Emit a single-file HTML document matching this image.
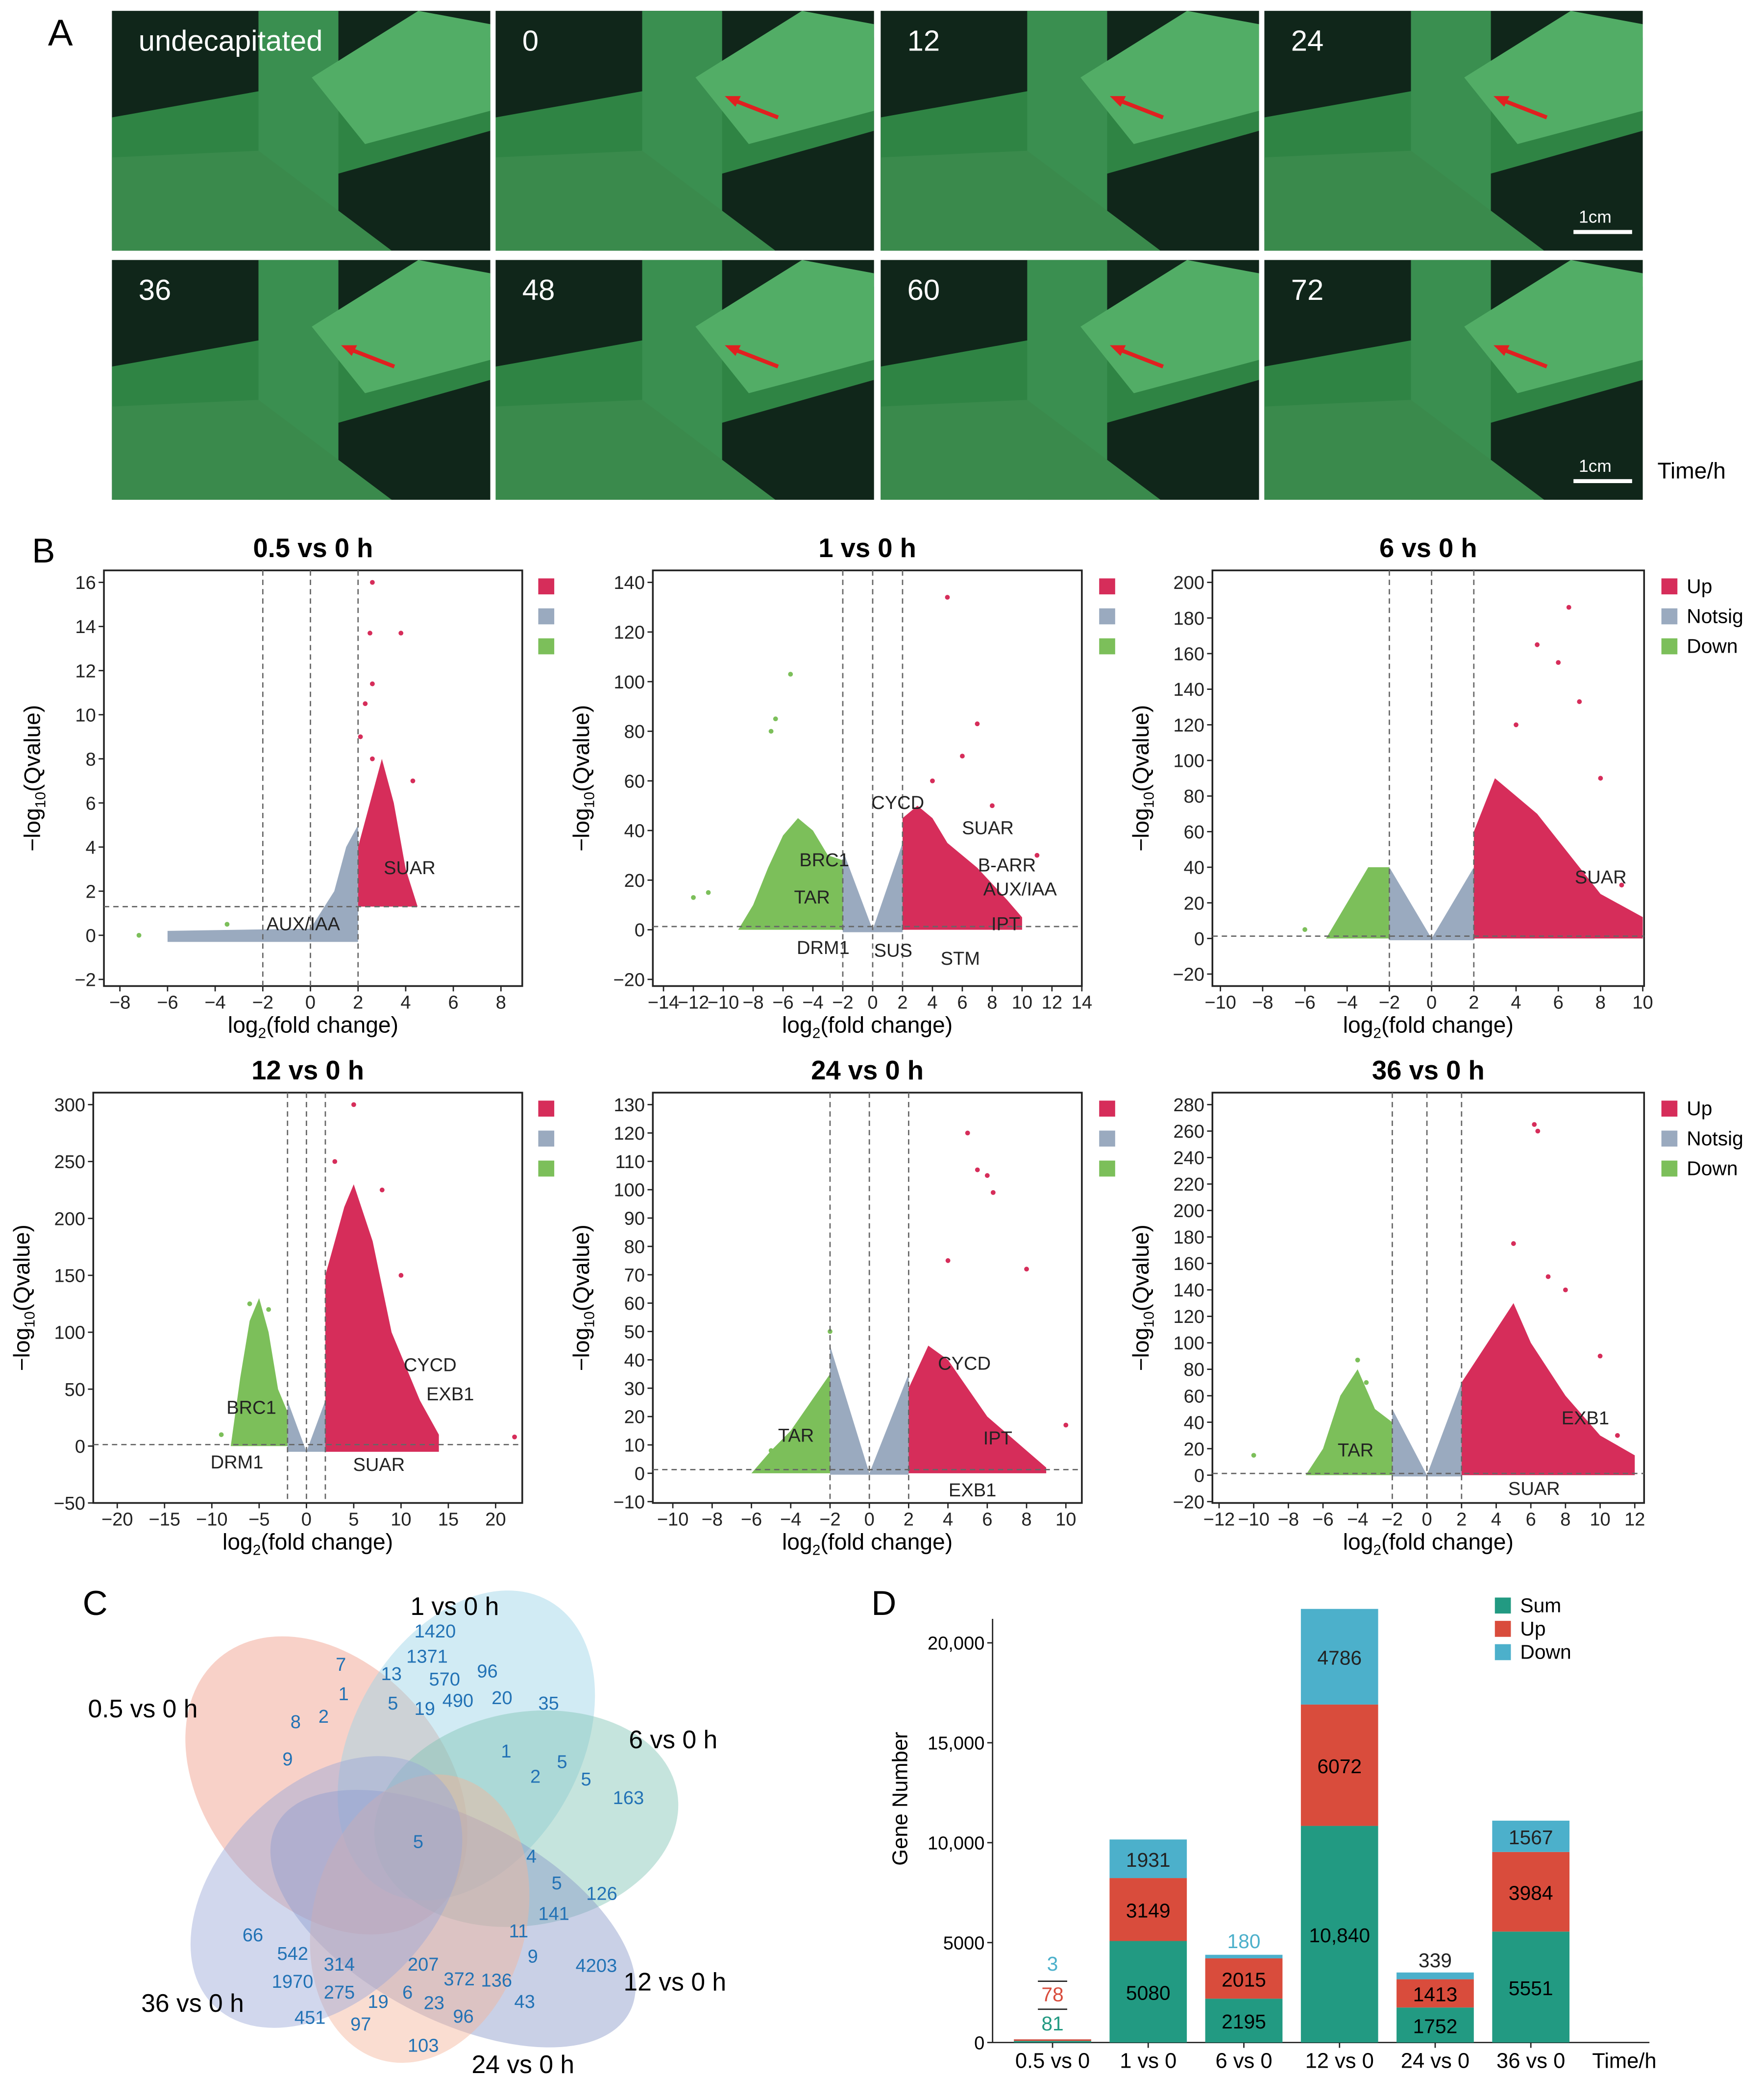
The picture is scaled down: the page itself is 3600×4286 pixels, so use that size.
<!DOCTYPE html>
<html><head><meta charset="utf-8"><style>
html,body{margin:0;padding:0;background:#fff}
svg{display:block;font-family:"Liberation Sans",Arial,sans-serif}
</style></head><body>
<svg id="fig" width="3600" height="4286" viewBox="0 0 1324 1576" xmlns="http://www.w3.org/2000/svg">
<g id="panelA"></g>
<g id="panelB"></g>
<g id="panelC"></g>
<g id="panelD"></g>
</svg>
<script>
// ---- Panel D data ----
const barCategories = ["0.5 vs 0","1 vs 0","6 vs 0","12 vs 0","24 vs 0","36 vs 0"];
const sumValues = [81,5080,2195,10840,1752,5551];
const upValues = [78,3149,2015,6072,1413,3984];
const downValues = [3,1931,180,4786,339,1567];
const yTicksD = [0,5000,10000,15000,20000];
const yTickLabelsD = ["0","5000","10,000","15,000","20,000"];

// ---- Panel B data (envelopes in data units [log2FC, -log10Q]) ----
const plotTitles = ["0.5 vs 0 h","1 vs 0 h","6 vs 0 h","12 vs 0 h","24 vs 0 h","36 vs 0 h"];
const xTicks = [[-8,-6,-4,-2,0,2,4,6,8],[-14,-12,-10,-8,-6,-4,-2,0,2,4,6,8,10,12,14],[-10,-8,-6,-4,-2,0,2,4,6,8,10],[-20,-15,-10,-5,0,5,10,15,20],[-10,-8,-6,-4,-2,0,2,4,6,8,10],[-12,-10,-8,-6,-4,-2,0,2,4,6,8,10,12]];
const yTicks = [[-2,0,2,4,6,8,10,12,14,16],[-20,0,20,40,60,80,100,120,140],[-20,0,20,40,60,80,100,120,140,160,180,200],[-50,0,50,100,150,200,250,300],[-10,0,10,20,30,40,50,60,70,80,90,100,110,120,130],[-20,0,20,40,60,80,100,120,140,160,180,200,220,240,260,280]];
const upShapes = [
 [[2,1.3],[2,4],[2.5,6],[3,8],[3.5,6],[4,3],[4.5,1.3]],
 [[2,0],[2,45],[3,50],[4,45],[5,35],[7,25],[9,12],[10,5],[10,0]],
 [[2,0],[2,60],[3,90],[4,80],[5,70],[6,55],[7,40],[8,25],[10,12],[10,0]],
 [[2,-5],[2,150],[4,210],[5,230],[7,180],[9,100],[12,40],[14,10],[14,-5]],
 [[2,0],[2,30],[3,45],[4,40],[5,30],[6,20],[8,8],[9,2],[9,0]],
 [[2,0],[2,70],[4,110],[5,130],[6,100],[8,60],[10,30],[12,15],[12,0]]];
const nsShapes = [
 [[-6,-0.3],[-6,0.2],[0,0.3],[1,2],[1.5,4],[2,5],[2,-0.3]],
 [[-2,-1],[-2,32],[0,0],[2,35],[2,-1]],
 [[-2,-1],[-2,40],[0,0],[2,40],[2,-1]],
 [[-2,-5],[-2,40],[0,-5],[2,40],[2,-5]],
 [[-2,-0.5],[-2,45],[0,0],[2,35],[2,-0.5]],
 [[-2,-1],[-2,50],[0,0],[2,70],[2,-1]]];
const downShapes = [
 [],
 [[-9,0],[-8,10],[-7,25],[-6,38],[-5,45],[-4,40],[-3,30],[-2,28],[-2,0]],
 [[-5,0],[-4,20],[-3,40],[-2,40],[-2,0]],
 [[-8,0],[-7,60],[-6,110],[-5,130],[-4,100],[-3,50],[-2,30],[-2,0]],
 [[-6,0],[-5,8],[-4,15],[-3,25],[-2,35],[-2,0]],
 [[-7,0],[-6,20],[-5,60],[-4,80],[-3,50],[-2,40],[-2,0]]];
const upDots = [
 [[2.6,16],[2.5,13.7],[3.8,13.7],[2.6,11.4],[2.3,10.5],[2.1,9],[2.6,8],[4.3,7],[3.2,6.7],[3,5.7]],
 [[5,134],[7,83],[4,60],[6,70],[8,50],[11,30]],
 [[6.5,186],[5,165],[6,155],[7,133],[4,120],[8,90],[9,30]],
 [[5,300],[8,225],[3,250],[10,150],[22,8]],
 [[5,120],[5.5,107],[6,105],[6.3,99],[8,72],[4,75],[10,17]],
 [[6.2,265],[6.4,260],[5,175],[7,150],[8,140],[10,90],[11,30]]];
const downDots = [
 [[-3.5,0.5],[-7.2,0]],
 [[-5.5,103],[-6.5,85],[-6.8,80],[-11,15],[-12,13]],
 [[-3,30],[-6,5]],
 [[-6,125],[-4,120],[-9,10]],
 [[-2,50],[-5,8]],
 [[-4,87],[-3.5,70],[-10,15]]];
const frames=[
 {x0:78,x1:392,y0:428,y1:740,xa:-8,xpa:90,xb:8,xpb:376,ya:-2,ypa:735,yb:16,ypb:437,leg:false,lx:404},
 {x0:490,x1:812,y0:428,y1:740,xa:-14,xpa:498,xb:14,xpb:812,ya:-20,ypa:735,yb:140,ypb:437,leg:false,lx:825},
 {x0:910,x1:1234,y0:428,y1:740,xa:-10,xpa:916,xb:10,xpb:1233,ya:-20,ypa:731,yb:200,ypb:437,leg:true,lx:1247},
 {x0:70,x1:392,y0:820,y1:1128,xa:-20,xpa:88,xb:20,xpb:372,ya:-50,ypa:1128,yb:300,ypb:829,leg:false,lx:404},
 {x0:490,x1:812,y0:820,y1:1128,xa:-10,xpa:505,xb:10,xpb:800,ya:-10,ypa:1127,yb:130,ypb:829,leg:false,lx:825},
 {x0:910,x1:1234,y0:820,y1:1128,xa:-12,xpa:915,xb:12,xpb:1227,ya:-20,ypa:1127,yb:280,ypb:829,leg:true,lx:1247}];
const geneLabels=[
 [["SUAR",288,656],["AUX/IAA",200,698]],
 [["CYCD",654,607],["SUAR",722,626],["BRC1",600,650],["B-ARR",734,654],["TAR",596,678],["AUX/IAA",738,672],["IPT",744,698],["DRM1",598,716],["SUS",656,718],["STM",706,724]],
 [["SUAR",1182,663]],
 [["CYCD",303,1029],["EXB1",320,1051],["BRC1",170,1061],["DRM1",158,1102],["SUAR",265,1104]],
 [["CYCD",704,1028],["IPT",738,1084],["TAR",584,1082],["EXB1",712,1123]],
 [["EXB1",1172,1069],["TAR",1004,1093],["SUAR",1132,1122]]];

const NS="http://www.w3.org/2000/svg";
function mk(parent,tag,attrs,text){const e=document.createElementNS(NS,tag);for(const k in attrs)e.setAttribute(k,attrs[k]);if(text!==undefined)e.textContent=text;parent.appendChild(e);return e;}

// ---- Panel A ----
const A=document.getElementById('panelA');
const lA=mk(A,'text',{x:36,y:34,'font-size':28},'A');

const photoLabels=["undecapitated","0","12","24","36","48","60","72"];
const colX=[84,372,661,949],rowY=[8,195];
photoLabels.forEach((t,i)=>{
 const x=colX[i%4],y=rowY[Math.floor(i/4)];
 const g=mk(A,'g',{});
 
 mk(g,'rect',{x:x,y:y,width:284,height:180,fill:'#10261a'});
 mk(g,'polygon',{points:`${x},${y+80} ${x+140},${y+55} ${x+284},${y+20} ${x+284},${y+90} ${x+160},${y+125} ${x},${y+165}`,fill:'#2f8444'});
 mk(g,'rect',{x:x+110,y:y,width:60,height:180,fill:'#3a8f50'});
 mk(g,'polygon',{points:`${x+150},${y+50} ${x+230},${y} ${x+284},${y+10} ${x+284},${y+75} ${x+190},${y+100}`,fill:'#52ad66'});
 mk(g,'polygon',{points:`${x},${y+110} ${x+110},${y+105} ${x+210},${y+180} ${x},${y+180}`,fill:'#3a8a4c'});
 mk(g,'text',{x:x+20,y:y+30,'font-size':22,fill:'#fff'},t);
 if(i>0){mk(g,'line',{x1:x+212,y1:y+80,x2:x+176,y2:y+66,stroke:'#e02020','stroke-width':3});
   mk(g,'polygon',{points:`${x+172},${y+64} ${x+184},${y+64} ${x+180},${y+72}`,fill:'#e02020'});}
 if(i==3||i==7){mk(g,'line',{x1:x+232,y1:y+166,x2:x+276,y2:y+166,stroke:'#fff','stroke-width':3});
   mk(g,'text',{x:x+236,y:y+159,'font-size':13,fill:'#fff'},'1cm');}
});
const th=mk(A,'text',{x:1244,y:359,'font-size':17},'Time/h');


// ---- Panel B ----
const B=document.getElementById('panelB');
const lB=mk(B,'text',{x:24,y:422,'font-size':26},'B');

frames.forEach((f,p)=>{
 const sx=v=>f.xpa+(v-f.xa)*(f.xpb-f.xpa)/(f.xb-f.xa);
 const sy=v=>f.ypa+(v-f.ya)*(f.ypb-f.ypa)/(f.yb-f.ya);
 const g=mk(B,'g',{});
 
 const tt=mk(g,'text',{x:(f.x0+f.x1)/2,y:f.y0-10,'font-size':20,'font-weight':'bold','text-anchor':'middle'},plotTitles[p]);
 
 mk(g,'rect',{x:f.x0,y:f.y0,width:f.x1-f.x0,height:f.y1-f.y0,fill:'none',stroke:'#222','stroke-width':1.3});
 const pts=a=>a.map(q=>sx(q[0])+','+sy(q[1])).join(' ');
 if(nsShapes[p].length){const e=mk(g,'polygon',{points:pts(nsShapes[p]),fill:'#9aaabf'});}
 if(downShapes[p].length){const e=mk(g,'polygon',{points:pts(downShapes[p]),fill:'#7cbf5a'});}
 if(upShapes[p].length){const e=mk(g,'polygon',{points:pts(upShapes[p]),fill:'#d62d5a'});}
 upDots[p].forEach(d=>{const c=mk(g,'circle',{cx:sx(d[0]),cy:sy(d[1]),r:1.8,fill:'#d62d5a'});});
 downDots[p].forEach(d=>{const c=mk(g,'circle',{cx:sx(d[0]),cy:sy(d[1]),r:1.8,fill:'#7cbf5a'});});
 [-2,0,2].forEach(v=>mk(g,'line',{x1:sx(v),x2:sx(v),y1:f.y0,y2:f.y1,stroke:'#666','stroke-dasharray':'4,3','stroke-width':1}));
 mk(g,'line',{x1:f.x0,x2:f.x1,y1:sy(1.3),y2:sy(1.3),stroke:'#666','stroke-dasharray':'4,3','stroke-width':1});
 xTicks[p].forEach(v=>{mk(g,'line',{x1:sx(v),x2:sx(v),y1:f.y1,y2:f.y1+4,stroke:'#222'});
   mk(g,'text',{x:sx(v),y:f.y1+17,'font-size':14,'text-anchor':'middle',fill:'#222'},(v<0?'\u2212':'')+Math.abs(v));});
 yTicks[p].forEach(v=>{mk(g,'line',{x1:f.x0-4,x2:f.x0,y1:sy(v),y2:sy(v),stroke:'#222'});
   mk(g,'text',{x:f.x0-6,y:sy(v)+5,'font-size':14,'text-anchor':'end',fill:'#222'},(v<0?'\u2212':'')+Math.abs(v));});
 const xt=mk(g,'text',{x:(f.x0+f.x1)/2,y:f.y1+35,'font-size':17,'text-anchor':'middle'});
 
 xt.innerHTML='log<tspan font-size="11" dy="4">2</tspan><tspan dy="-4">(fold change)</tspan>';
 const yt=mk(g,'text',{transform:`translate(${f.x0-48},${(f.y0+f.y1)/2}) rotate(-90)`,'font-size':17,'text-anchor':'middle'});
 
 yt.innerHTML='\u2212log<tspan font-size="11" dy="4">10</tspan><tspan dy="-4">(Qvalue)</tspan>';
 const lc=['#d62d5a','#9aaabf','#7cbf5a'],ln=['Up','Notsig','Down'];
 lc.forEach((c,k)=>{const r=mk(g,'rect',{x:f.lx,y:f.y0+6+k*22.5,width:12,height:12,fill:c});
   
   if(f.leg)mk(g,'text',{x:f.lx+19,y:f.y0+17+k*22.5,'font-size':15},ln[k]);});
 geneLabels[p].forEach(l=>{const t=mk(g,'text',{x:l[1],y:l[2],'font-size':14,fill:'#222'},l[0]);
   });
});

// ---- Panel C ----
const C=document.getElementById('panelC');
const lC=mk(C,'text',{x:62,y:1212,'font-size':26},'C');

const venn=[["0.5 vs 0 h",245,1340,90,125,-40,'#ef9a86'],["1 vs 0 h",350,1310,85,125,30,'#98d3e6'],["6 vs 0 h",395,1365,80,115,80,'#7fc3b4'],["12 vs 0 h",340,1440,75,150,-62,'#8796c8'],["24 vs 0 h",315,1440,80,110,15,'#f3b49a'],["36 vs 0 h",245,1420,80,120,45,'#9aa7d6']];
venn.forEach(v=>{const e=mk(C,'ellipse',{cx:v[1],cy:v[2],rx:v[3],ry:v[4],transform:`rotate(${v[5]} ${v[1]} ${v[2]})`,fill:v[6],'fill-opacity':0.45});
 });
const setLabels=[["1 vs 0 h",308,1212],["0.5 vs 0 h",66,1289],["6 vs 0 h",472,1312],["12 vs 0 h",468,1494],["36 vs 0 h",106,1510],["24 vs 0 h",354,1556]];
setLabels.forEach(s=>{const t=mk(C,'text',{x:s[1],y:s[2],'font-size':19},s[0]);});
const vnums=[["1420",311,1229],["1371",305,1248],["570",322,1265],["96",358,1259],["7",252,1254],["13",286,1261],["1",254,1276],["5",291,1283],["19",311,1287],["490",332,1281],["20",369,1279],["35",404,1283],["8",218,1297],["2",239,1293],["9",212,1325],["1",376,1319],["5",418,1327],["2",398,1338],["5",436,1340],["163",460,1354],["5",310,1387],["4",395,1398],["5",414,1418],["126",440,1426],["141",404,1441],["11",382,1454],["9",396,1473],["4203",432,1480],["66",182,1457],["542",208,1471],["314",243,1479],["207",306,1479],["372",333,1490],["136",361,1491],["1970",204,1492],["275",243,1500],["19",276,1507],["6",302,1500],["23",318,1508],["96",340,1518],["43",386,1507],["451",221,1519],["97",263,1524],["103",306,1540]];
vnums.forEach(n=>{const t=mk(C,'text',{x:n[1],y:n[2],'font-size':14,fill:'#2272b5'},n[0]);});

// ---- Panel D ----
const D=document.getElementById('panelD');
const lD=mk(D,'text',{x:654,y:1212,'font-size':26},'D');

const dx0=745,dx1=1238,dyb=1533,dyt=1233;
const sD=v=>dyb-(v/20000)*(dyb-dyt);
const bx=i=>790+i*71.8;
mk(D,'line',{x1:dx0,x2:dx0,y1:1215,y2:dyb,stroke:'#222'});
mk(D,'line',{x1:dx0,x2:dx1,y1:dyb,y2:dyb,stroke:'#222'});
yTicksD.forEach((v,i)=>{mk(D,'line',{x1:dx0-4,x2:dx0,y1:sD(v),y2:sD(v),stroke:'#222'});
 mk(D,'text',{x:dx0-6,y:sD(v)+5,'font-size':14,'text-anchor':'end'},yTickLabelsD[i]);});
const ytd=mk(D,'text',{transform:`translate(681,1350) rotate(-90)`,'font-size':16,'text-anchor':'middle'},'Gene Number');

const colS='#229a82',colU='#d94c3c',colDn='#4cb0cb';
barCategories.forEach((c,i)=>{
 const x=bx(i)-29,w=58;
 const s=sumValues[i],u=upValues[i],d=downValues[i];
 const r1=mk(D,'rect',{x:x,y:sD(s),width:w,height:sD(0)-sD(s),fill:colS});
 
 const r2=mk(D,'rect',{x:x,y:sD(s+u),width:w,height:sD(s)-sD(s+u),fill:colU});
 
 const r3=mk(D,'rect',{x:x,y:sD(s+u+d),width:w,height:sD(s+u)-sD(s+u+d),fill:colDn});
 
 mk(D,'line',{x1:bx(i),x2:bx(i),y1:dyb,y2:dyb+4,stroke:'#222'});
 mk(D,'text',{x:bx(i),y:dyb+19,'font-size':16,'text-anchor':'middle'},c);
 const big=(sD(0)-sD(s+u+d))>60;
 if(big){
  mk(D,'text',{x:bx(i),y:(sD(0)+sD(s))/2+6,'font-size':15,'text-anchor':'middle'},s>=10000?s.toLocaleString('en-US'):String(s));
  mk(D,'text',{x:bx(i),y:(sD(s)+sD(s+u))/2+6,'font-size':15,'text-anchor':'middle'},String(u));
  const hd=sD(s+u)-sD(s+u+d);
  mk(D,'text',{x:bx(i),y:hd>20?(sD(s+u)+sD(s+u+d))/2+6:sD(s+u+d)-5,'font-size':15,'text-anchor':'middle',fill:hd>20?'#222':colDn},String(d));
 } else if(s<1000){
  mk(D,'text',{x:bx(i),y:1524,'font-size':15,'text-anchor':'middle',fill:colS},String(s));
  mk(D,'line',{x1:bx(i)-11,x2:bx(i)+11,y1:1508,y2:1508,stroke:'#222'});
  mk(D,'text',{x:bx(i),y:1502,'font-size':15,'text-anchor':'middle',fill:colU},String(u));
  mk(D,'line',{x1:bx(i)-11,x2:bx(i)+11,y1:1487,y2:1487,stroke:'#222'});
  mk(D,'text',{x:bx(i),y:1479,'font-size':15,'text-anchor':'middle',fill:colDn},String(d));
 } else {
  mk(D,'text',{x:bx(i),y:(sD(0)+sD(s))/2+6,'font-size':15,'text-anchor':'middle'},String(s));
  mk(D,'text',{x:bx(i),y:(sD(s)+sD(s+u))/2+6,'font-size':15,'text-anchor':'middle'},String(u));
  mk(D,'text',{x:bx(i),y:sD(s+u+d)-4,'font-size':15,'text-anchor':'middle',fill:i==2?colDn:'#222'},String(d));
 }
});
mk(D,'text',{x:1195,y:1552,'font-size':16},'Time/h');
[['Sum',colS],['Up',colU],['Down',colDn]].forEach((l,k)=>{
 const r=mk(D,'rect',{x:1122,y:1199+k*17.5,width:12,height:12,fill:l[1]});
 
 mk(D,'text',{x:1141,y:1210+k*17.5,'font-size':15},l[0]);
});
</script>
</body></html>
